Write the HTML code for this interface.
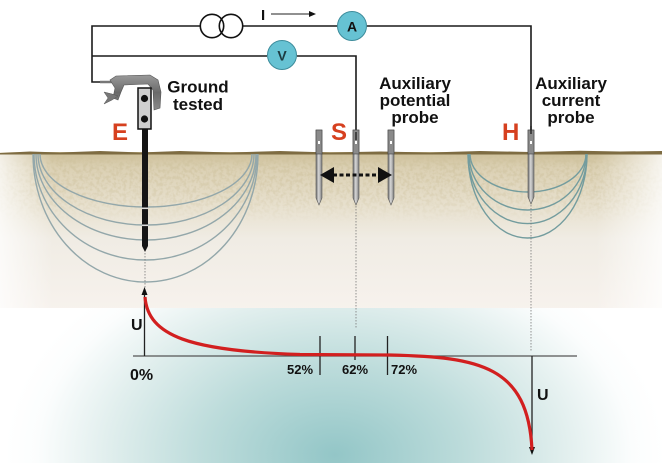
<!DOCTYPE html>
<html><head><meta charset="utf-8"><style>
html,body{margin:0;padding:0;background:#fff;}
svg{display:block;}
text{font-family:"Liberation Sans",Arial,sans-serif;font-weight:bold;}
</style></head><body>
<svg width="662" height="463" viewBox="0 0 662 463" xmlns="http://www.w3.org/2000/svg">
<defs>
<linearGradient id="soil" x1="0" y1="152" x2="0" y2="310" gradientUnits="userSpaceOnUse">
<stop offset="0" stop-color="#cdbf98"/>
<stop offset="0.1" stop-color="#dbd0b3"/>
<stop offset="0.35" stop-color="#e8e1cf"/>
<stop offset="0.55" stop-color="#f0ece4"/>
<stop offset="1" stop-color="#f7f2ed"/>
</linearGradient>
<linearGradient id="edges" x1="0" y1="0" x2="662" y2="0" gradientUnits="userSpaceOnUse">
<stop offset="0" stop-color="#fff" stop-opacity="0.75"/>
<stop offset="0.08" stop-color="#fff" stop-opacity="0"/>
<stop offset="0.9" stop-color="#fff" stop-opacity="0"/>
<stop offset="1" stop-color="#fff" stop-opacity="0.8"/>
</linearGradient>
<radialGradient id="teal" cx="335" cy="455" r="330" gradientUnits="userSpaceOnUse" gradientTransform="translate(335 455) scale(1 0.68) translate(-335 -455)">
<stop offset="0" stop-color="#93c6c7"/>
<stop offset="0.4" stop-color="#bddcdb"/>
<stop offset="0.7" stop-color="#e2efee"/>
<stop offset="0.9" stop-color="#fbfdfd"/>
<stop offset="1" stop-color="#ffffff"/>
</radialGradient>
<linearGradient id="probe" x1="0" y1="0" x2="1" y2="0">
<stop offset="0" stop-color="#6e6e6e"/>
<stop offset="0.45" stop-color="#d8d8d8"/>
<stop offset="1" stop-color="#7a7a7a"/>
</linearGradient>
<linearGradient id="metal" x1="0" y1="0" x2="0" y2="1">
<stop offset="0" stop-color="#9a9a9a"/>
<stop offset="0.5" stop-color="#6a6a6a"/>
<stop offset="1" stop-color="#8a8a8a"/>
</linearGradient>
<filter id="speck" x="0" y="0" width="100%" height="100%">
<feTurbulence type="fractalNoise" baseFrequency="0.3" numOctaves="2" seed="3" result="n"/>
<feColorMatrix in="n" type="matrix" values="0 0 0 0 0.62  0 0 0 0 0.54  0 0 0 0 0.34  4 0 0 0 -1.7"/>
</filter>
<linearGradient id="speckfade" x1="0" y1="152" x2="0" y2="222" gradientUnits="userSpaceOnUse">
<stop offset="0" stop-color="#fff" stop-opacity="0.7"/>
<stop offset="0.6" stop-color="#fff" stop-opacity="0.35"/>
<stop offset="1" stop-color="#fff" stop-opacity="0"/>
</linearGradient>
<mask id="sm"><rect x="0" y="152" width="662" height="70" fill="url(#speckfade)"/></mask>
</defs>

<!-- ground -->
<rect x="0" y="152" width="662" height="158" fill="url(#soil)"/>
<g mask="url(#sm)"><rect x="0" y="152" width="662" height="70" filter="url(#speck)"/></g>
<rect x="0" y="152" width="662" height="158" fill="url(#edges)"/>
<rect x="0" y="308" width="662" height="155" fill="url(#teal)"/>
<path d="M0 153 L30 151.5 L60 152.5 L100 151 L140 152.5 L180 151 L230 152.5 L280 151 L330 152.5 L380 151.5 L430 152.5 L480 151 L530 152 L580 150.8 L620 151.5 L662 151 L662 154.5 L0 154.5 Z" fill="#7e6c42"/>

<!-- equipotential E -->
<g fill="none" stroke="#93a7aa" stroke-width="1.4">
<path d="M40 154 A106 53 0 0 0 252 154"/>
<path d="M38 154 A108 71 0 0 0 254 154"/>
<path d="M36 154 A110 86 0 0 0 256 154"/>
<path d="M34 154 A111.5 106 0 0 0 257 154"/>
<path d="M33 154 A112.5 128 0 0 0 258 154"/>
</g>
<!-- equipotential H -->
<g fill="none" stroke="#739c9e" stroke-width="1.4">
<path d="M470 154 A58 38 0 0 0 586 154"/>
<path d="M469 154 A58.5 56 0 0 0 586 154"/>
<path d="M468 154 A59 69 0 0 0 587 154"/>
<path d="M468 154 A59.5 84 0 0 0 587 154"/>
</g>

<!-- dotted verticals -->
<g stroke="#777" stroke-width="0.8" stroke-dasharray="1.5 1.5">
<line x1="145" y1="253" x2="145" y2="292"/>
<line x1="356" y1="206" x2="356" y2="328"/>
<line x1="531" y1="205" x2="531" y2="352"/>
</g>

<!-- wires -->
<g fill="none" stroke="#1a1a1a" stroke-width="1.6">
<path d="M200 26 L92 26 L92 82 L104 82"/>
<line x1="243" y1="26" x2="337" y2="26"/>
<path d="M367 26 L531 26 L531 132"/>
<path d="M267 56 L92 56"/>
<path d="M297 56 L356 56 L356 138"/>
</g>
<line x1="100" y1="82" x2="114" y2="82" stroke="#777" stroke-width="2.5"/>
<!-- transformer -->
<circle cx="212" cy="26" r="11.7" fill="none" stroke="#111" stroke-width="1.6"/>
<circle cx="231" cy="26" r="11.7" fill="none" stroke="#111" stroke-width="1.6"/>
<!-- I arrow -->
<text x="261" y="20" font-size="15" fill="#111">I</text>
<line x1="271" y1="14" x2="311" y2="14" stroke="#222" stroke-width="1"/>
<polygon points="316,14 309,11 309,17" fill="#111"/>
<!-- A meter -->
<circle cx="352" cy="26" r="14.5" fill="#66c2d3" stroke="#3d8c9b" stroke-width="1"/>
<text x="352" y="31.5" font-size="14" text-anchor="middle" fill="#111">A</text>
<!-- V meter -->
<circle cx="282" cy="55" r="14.5" fill="#66c2d3" stroke="#3d8c9b" stroke-width="1"/>
<text x="282" y="60.5" font-size="14" text-anchor="middle" fill="#1c3a40" font-weight="normal">V</text>

<!-- clamp -->
<path d="M110 80 L116 76 L150 75 L158 80 L161 92 L160 108 L154 110 L153 90 L148 84 L124 85 L121 92 L118 100 L113 98 L115 88 Z" fill="url(#metal)" stroke="#555" stroke-width="0.6"/>
<path d="M104 92 L112 94 L118 96 L112 100 L104 104 L108 98 Z" fill="#777" stroke="#555" stroke-width="0.5"/>
<!-- E rod -->
<rect x="142" y="128" width="6" height="118" fill="#151515"/>
<polygon points="142,246 148,246 145,252" fill="#151515"/>
<rect x="142" y="207.5" width="6" height="1.6" fill="#ddd"/>
<rect x="142" y="224.5" width="6" height="1.6" fill="#ddd"/>
<rect x="138" y="88" width="13" height="41" fill="#cfcfcf" stroke="#111" stroke-width="1.5"/>
<circle cx="144.5" cy="98.5" r="3.6" fill="#111"/>
<circle cx="144.5" cy="119" r="3.6" fill="#111"/>

<!-- probes -->
<g>
<g transform="translate(319 0)">
<path d="M-3 130 L3 130 L3 198 L0 205 L-3 198 Z" fill="url(#probe)" stroke="#555" stroke-width="0.6"/>
<rect x="-3" y="130" width="6" height="24" fill="#8a8a8a" stroke="#444" stroke-width="0.6"/>
<rect x="-1" y="141" width="2" height="3" fill="#fff"/>
</g>
<g transform="translate(356 0)">
<path d="M-3 130 L3 130 L3 198 L0 205 L-3 198 Z" fill="url(#probe)" stroke="#555" stroke-width="0.6"/>
<rect x="-3" y="130" width="6" height="24" fill="#8a8a8a" stroke="#444" stroke-width="0.6"/>
<rect x="-1" y="141" width="2" height="3" fill="#fff"/>
</g>
<g transform="translate(391 0)">
<path d="M-3 130 L3 130 L3 198 L0 205 L-3 198 Z" fill="url(#probe)" stroke="#555" stroke-width="0.6"/>
<rect x="-3" y="130" width="6" height="24" fill="#8a8a8a" stroke="#444" stroke-width="0.6"/>
<rect x="-1" y="141" width="2" height="3" fill="#fff"/>
</g>
<g transform="translate(531 0)">
<path d="M-3 130 L3 130 L3 197 L0 204 L-3 197 Z" fill="url(#probe)" stroke="#555" stroke-width="0.6"/>
<rect x="-3" y="130" width="6" height="24" fill="#8a8a8a" stroke="#444" stroke-width="0.6"/>
<rect x="-1" y="141" width="2" height="3" fill="#fff"/>
</g>
</g>
<line x1="356" y1="132" x2="356" y2="140" stroke="#111" stroke-width="1.2"/>
<line x1="531" y1="126" x2="531" y2="134" stroke="#111" stroke-width="1.2"/>

<!-- dashed double arrow -->
<line x1="333" y1="175" x2="379" y2="175" stroke="#111" stroke-width="3" stroke-dasharray="4 2.5"/>
<polygon points="320,175 334,167 334,183" fill="#111"/>
<polygon points="392,175 378,167 378,183" fill="#111"/>

<!-- labels -->
<text x="198" y="92.5" font-size="17" text-anchor="middle" fill="#111">Ground</text>
<text x="198" y="110" font-size="17" text-anchor="middle" fill="#111">tested</text>
<text x="415" y="89" font-size="17" text-anchor="middle" fill="#111">Auxiliary</text>
<text x="415" y="106" font-size="17" text-anchor="middle" fill="#111">potential</text>
<text x="415" y="123" font-size="17" text-anchor="middle" fill="#111">probe</text>
<text x="571" y="89" font-size="17" text-anchor="middle" fill="#111">Auxiliary</text>
<text x="571" y="106" font-size="17" text-anchor="middle" fill="#111">current</text>
<text x="571" y="123" font-size="17" text-anchor="middle" fill="#111">probe</text>
<text x="112" y="140" font-size="24" fill="#d6401f">E</text>
<text x="331" y="140" font-size="24" fill="#d6401f">S</text>
<text x="502" y="140" font-size="24" fill="#d6401f">H</text>

<!-- graph -->
<line x1="133" y1="356" x2="577" y2="356" stroke="#555" stroke-width="1.2"/>
<line x1="144.5" y1="356" x2="144.5" y2="293" stroke="#222" stroke-width="1.3"/>
<polygon points="144.5,287 141.5,295 147.5,295" fill="#111"/>
<line x1="532" y1="356" x2="532" y2="449" stroke="#222" stroke-width="1.3"/>
<polygon points="532,455 529,447 535,447" fill="#111"/>
<g stroke="#222" stroke-width="1.3">
<line x1="320" y1="336" x2="320" y2="375"/>
<line x1="355" y1="336" x2="355" y2="360"/>
<line x1="387.5" y1="336" x2="387.5" y2="375"/>
</g>
<path d="M145 297 C148 336 190 351 300 354.5 L390 355 C480 357 528 366 532 450" fill="none" stroke="#d21f1f" stroke-width="3.2"/>
<text x="131" y="330" font-size="16" fill="#111">U</text>
<text x="537" y="400" font-size="16" fill="#111">U</text>
<text x="130" y="380" font-size="16" fill="#111">0%</text>
<text x="287" y="374" font-size="13" fill="#111">52%</text>
<text x="342" y="374" font-size="13" fill="#111">62%</text>
<text x="391" y="374" font-size="13" fill="#111">72%</text>
</svg>
</body></html>
